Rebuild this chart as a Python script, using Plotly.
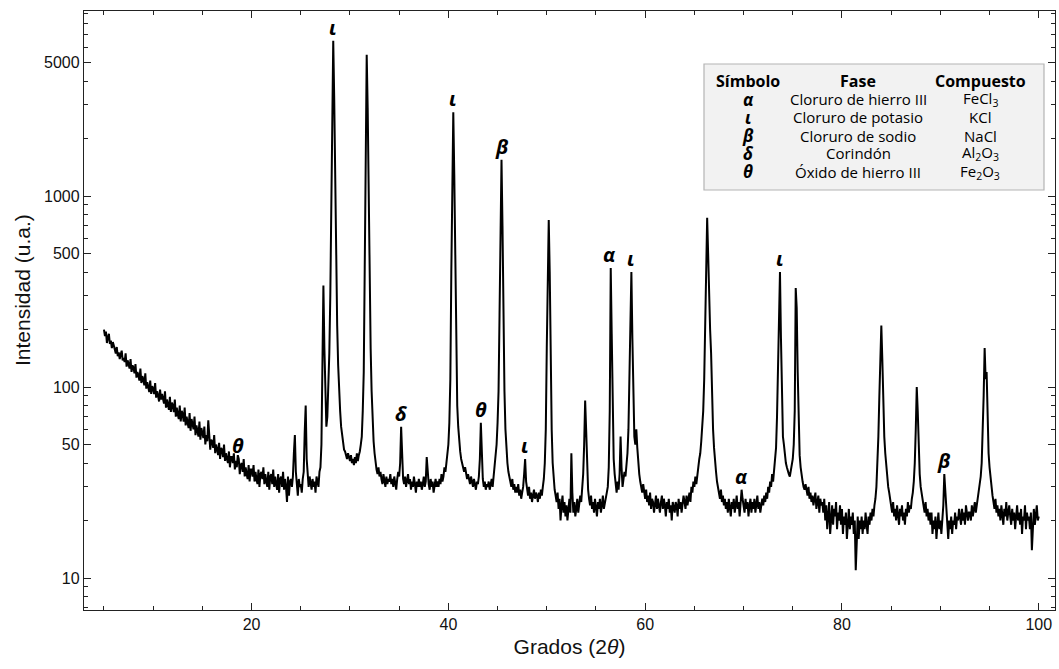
import numpy as np
import plotly.graph_objects as go

# ---------------- data ----------------
angle_start = 5.0
angle_step = 0.1

# intensity rows, one row per degree (x = d.0 ... d.9), 5..99, then 100.0
intensity_rows = [
    [200, 185, 195, 170, 182, 190, 168, 175, 160, 172],  # 5
    [165, 158, 150, 162, 145, 152, 140, 148, 155, 138],  # 6
    [142, 135, 150, 128, 138, 132, 125, 140, 120, 130],  # 7
    [126, 118, 132, 112, 120, 115, 108, 125, 105, 114],  # 8
    [110, 102, 118, 98, 106, 100, 94, 108, 92, 101],     # 9
    [98, 92, 105, 88, 95, 90, 84, 97, 86, 92],           # 10
    [88, 82, 95, 78, 86, 80, 76, 89, 74, 83],            # 11
    [80, 74, 86, 70, 78, 72, 68, 80, 66, 75],            # 12
    [72, 66, 78, 63, 70, 65, 61, 73, 59, 68],            # 13
    [65, 60, 70, 56, 63, 58, 55, 66, 53, 61],            # 14
    [58, 54, 62, 50, 56, 52, 67, 55, 47, 53],            # 15
    [52, 48, 56, 45, 50, 47, 44, 51, 42, 48],            # 16
    [47, 43, 50, 41, 45, 42, 40, 46, 38, 43],            # 17
    [43, 40, 45, 37, 41, 38, 44, 42, 35, 39],            # 18
    [40, 36, 42, 34, 38, 35, 33, 39, 32, 37],            # 19
    [37, 34, 39, 32, 36, 33, 31, 37, 30, 35],            # 20
    [36, 33, 38, 31, 35, 32, 30, 36, 29, 34],            # 21
    [35, 31, 37, 30, 34, 31, 29, 35, 28, 33],            # 22
    [34, 30, 36, 29, 33, 30, 25, 34, 27, 32],            # 23
    [33, 30, 34, 45, 56, 36, 30, 27, 33, 30],            # 24
    [31, 28, 33, 36, 58, 80, 42, 32, 30, 34],            # 25
    [31, 29, 33, 30, 32, 28, 34, 31, 30, 36],            # 26
    [38, 50, 150, 340, 160, 75, 62, 70, 95, 150],        # 27
    [300, 1000, 3500, 6500, 3200, 1100, 430, 210, 130, 90],  # 28
    [75, 62, 55, 50, 47, 46, 44, 42, 45, 43],            # 29
    [41, 44, 40, 42, 39, 43, 40, 45, 41, 44],            # 30
    [46, 50, 55, 75, 120, 420, 2700, 5500, 2900, 900],   # 31
    [340, 160, 95, 65, 52, 45, 40, 37, 35, 38],          # 32
    [34, 36, 33, 31, 35, 32, 30, 34, 31, 33],            # 33
    [32, 35, 31, 33, 30, 34, 32, 29, 33, 36],            # 34
    [34, 40, 62, 40, 33, 31, 34, 30, 32, 35],            # 35
    [31, 33, 29, 32, 30, 34, 31, 28, 32, 30],            # 36
    [33, 30, 32, 29, 31, 34, 30, 32, 43, 33],            # 37
    [31, 29, 33, 30, 32, 28, 31, 33, 30, 32],            # 38
    [30, 33, 31, 35, 32, 34, 38, 36, 40, 44],            # 39
    [50, 65, 110, 400, 1500, 2750, 1300, 380, 140, 80],  # 40
    [62, 52, 46, 42, 40, 37, 36, 38, 35, 33],            # 41
    [35, 33, 31, 34, 32, 30, 33, 31, 29, 32],            # 42
    [31, 34, 42, 65, 45, 33, 30, 32, 29, 31],            # 43
    [30, 32, 29, 31, 33, 30, 34, 36, 42, 50],            # 44
    [65, 95, 240, 800, 1550, 700, 220, 95, 60, 45],      # 45
    [40, 36, 34, 32, 30, 33, 29, 31, 28, 30],            # 46
    [28, 31, 27, 29, 26, 28, 30, 35, 42, 32],            # 47
    [29, 27, 30, 26, 28, 25, 27, 29, 26, 28],            # 48
    [27, 25, 28, 26, 29, 27, 30, 33, 40, 60],            # 49
    [160, 450, 750, 400, 130, 60, 40, 33, 29, 27],       # 50
    [25, 28, 23, 26, 20, 24, 27, 22, 25, 21],            # 51
    [24, 20, 23, 26, 22, 45, 28, 22, 25, 21],            # 52
    [23, 26, 22, 24, 27, 25, 29, 35, 50, 85],            # 53
    [60, 38, 29, 26, 24, 27, 23, 25, 22, 26],            # 54
    [24, 21, 25, 23, 26, 22, 24, 27, 23, 25],            # 55
    [26, 28, 30, 38, 75, 420, 190, 70, 42, 35],          # 56
    [30, 28, 32, 29, 35, 55, 38, 30, 33, 36],            # 57
    [34, 38, 45, 60, 110, 260, 400, 180, 75, 55],        # 58
    [50, 60, 48, 40, 35, 32, 30, 28, 31, 27],            # 59
    [26, 29, 25, 27, 24, 28, 23, 26, 25, 22],            # 60
    [25, 27, 23, 26, 24, 22, 25, 27, 23, 26],            # 61
    [24, 21, 25, 23, 26, 22, 24, 20, 25, 23],            # 62
    [22, 25, 24, 21, 26, 23, 25, 22, 24, 27],            # 63
    [25, 23, 27, 24, 26, 28, 25, 30, 28, 32],            # 64
    [30, 34, 31, 36, 38, 42, 45, 52, 60, 75],            # 65
    [110, 190, 400, 770, 500, 280, 200, 150, 90, 60],    # 66
    [48, 40, 36, 32, 30, 28, 26, 29, 25, 27],            # 67
    [24, 26, 23, 25, 22, 26, 24, 21, 25, 23],            # 68
    [26, 22, 24, 27, 23, 25, 21, 24, 29, 26],            # 69
    [24, 22, 26, 23, 25, 21, 24, 26, 22, 25],            # 70
    [23, 26, 22, 24, 27, 23, 25, 22, 24, 26],            # 71
    [24, 27, 25, 28, 26, 30, 28, 32, 30, 35],            # 72
    [32, 36, 40, 48, 70, 140, 320, 400, 180, 75],        # 73
    [55, 50, 44, 40, 38, 36, 35, 34, 36, 38],            # 74
    [42, 50, 75, 330, 260, 120, 60, 44, 38, 34],         # 75
    [32, 30, 29, 31, 28, 27, 30, 26, 28, 25],            # 76
    [27, 24, 26, 28, 23, 25, 27, 22, 26, 24],            # 77
    [25, 22, 26, 20, 24, 18, 23, 25, 17, 22],            # 78
    [24, 19, 23, 21, 25, 18, 22, 20, 24, 19],            # 79
    [23, 17, 21, 19, 22, 16, 20, 23, 18, 21],            # 80
    [19, 22, 17, 20, 11, 18, 21, 16, 20, 18],            # 81
    [21, 17, 20, 18, 22, 19, 17, 21, 19, 22],            # 82
    [20, 23, 21, 24, 26, 30, 38, 55, 90, 150],           # 83
    [210, 140, 75, 55, 45, 38, 34, 30, 28, 26],          # 84
    [24, 22, 25, 21, 23, 20, 24, 22, 19, 23],            # 85
    [21, 24, 20, 22, 19, 23, 21, 25, 22, 24],            # 86
    [23, 26, 28, 32, 40, 60, 100, 75, 45, 35],           # 87
    [30, 28, 26, 24, 22, 25, 21, 23, 20, 22],            # 88
    [19, 22, 17, 20, 18, 21, 16, 19, 22, 18],            # 89
    [20, 17, 21, 24, 35, 28, 22, 19, 16, 20],            # 90
    [18, 21, 17, 20, 19, 22, 18, 21, 20, 23],            # 91
    [21, 19, 23, 20, 22, 19, 24, 21, 20, 22],            # 92
    [22, 20, 24, 21, 23, 25, 22, 24, 26, 28],            # 93
    [30, 34, 40, 55, 90, 160, 110, 120, 70, 45],         # 94
    [38, 33, 30, 27, 25, 23, 26, 22, 24, 21],            # 95
    [23, 20, 24, 22, 19, 23, 21, 25, 20, 22],            # 96
    [24, 21, 19, 23, 20, 22, 18, 21, 24, 20],            # 97
    [22, 19, 23, 17, 21, 20, 24, 18, 22, 20],            # 98
    [21, 18, 22, 14, 20, 23, 19, 21, 24, 20],            # 99
    [21],                                                # 100
]

# peak labels
label_x = [18.6, 28.3, 35.2, 40.5, 43.3, 45.4, 47.8, 56.4, 58.6, 69.8, 73.7, 90.4]
label_y = [42, 6500, 62, 2750, 65, 1550, 42, 420, 400, 29, 400, 35]
label_text = ["θ", "ɩ", "δ", "ɩ", "θ", "β", "ɩ", "α", "ɩ", "α", "ɩ", "β"]

# phase table
table_header = ["Símbolo", "Fase", "Compuesto"]
table_symbols = ["α", "ɩ", "β", "δ", "θ"]
table_phases = ["Cloruro de hierro III", "Cloruro de potasio", "Cloruro de sodio",
                "Corindón", "Óxido de hierro III"]
table_compounds = ["FeCl<sub>3</sub>", "KCl", "NaCl", "Al<sub>2</sub>O<sub>3</sub>",
                   "Fe<sub>2</sub>O<sub>3</sub>"]

x_major = [20, 40, 60, 80, 100]
x_minor = [5, 10, 15, 25, 30, 35, 45, 50, 55, 65, 70, 75, 85, 90, 95]
y_major = [10, 50, 100, 500, 1000, 5000]
y_major_text = ["10", "50", "100", "500", "1000", "5000"]
y_minor = [7, 8, 9, 20, 30, 40, 60, 70, 80, 90, 200, 300, 400, 600, 700, 800, 900,
           2000, 3000, 4000, 6000, 7000, 8000, 9000]

# ---------------- build ----------------
intensity = [v for row in intensity_rows for v in row]
two_theta = np.round(angle_start + angle_step * np.arange(len(intensity)), 2)

fig = go.Figure()
fig.add_trace(go.Scatter(x=two_theta, y=intensity, mode="lines",
                         line=dict(color="black", width=2.0), showlegend=False,
                         hoverinfo="skip"))

W, H = 1059, 669
L, R, T, B = 84, 4, 11, 59

def px2paper_x(px):
    return (px - L) / (W - L - R)

def py2paper_y(py):
    return 1 - (py - T) / (H - T - B)

axis_font = dict(family="Liberation Sans, Arial, sans-serif", size=16, color="#111")
title_font = dict(family="Liberation Sans, Arial, sans-serif", size=21, color="#111")
fig.update_layout(
    width=W, height=H,
    margin=dict(l=L, r=R, t=T, b=B),
    plot_bgcolor="white", paper_bgcolor="white",
    showlegend=False,
)
fig.update_xaxes(
    range=[2.97, 101.65], showgrid=False, zeroline=False,
    showline=True, linecolor="#222", linewidth=1.3, mirror="ticks",
    ticks="inside", ticklen=7, tickwidth=1, tickcolor="#222",
    tickvals=x_major, tickfont=axis_font,
    minor=dict(tickvals=x_minor, ticks="inside", ticklen=4, tickwidth=1, tickcolor="#222"),
    title=dict(text="Grados (2<i>θ</i>)", font=title_font, standoff=6),
)
fig.update_yaxes(
    type="log", range=[0.8325, 3.969], showgrid=False, zeroline=False,
    showline=True, linecolor="#222", linewidth=1.3, mirror="ticks",
    ticks="inside", ticklen=7, tickwidth=1, tickcolor="#222",
    tickvals=y_major, ticktext=y_major_text, tickfont=axis_font,
    minor=dict(tickvals=y_minor, ticks="inside", ticklen=4, tickwidth=1, tickcolor="#222"),
)
# y-axis title (placed as in the reference, slightly above plot centre)
fig.add_annotation(xref="paper", yref="paper", x=px2paper_x(22), y=py2paper_y(290),
                   text="Intensidad (u.a.)", textangle=-90, showarrow=False,
                   xanchor="center", yanchor="middle", font=title_font)

label_font = dict(family="Open Sans, Noto Sans, sans-serif", size=20, color="black")
for lx, ly, lt in zip(label_x, label_y, label_text):
    fig.add_annotation(x=lx, y=np.log10(ly), text=f"<b><i>{lt}</i></b>", showarrow=False,
                       xanchor="center", yanchor="bottom", yshift=-2, font=label_font)

# phase table box
box = (704, 64, 1044, 190)
fig.add_shape(type="rect", xref="paper", yref="paper",
              x0=px2paper_x(box[0]), x1=px2paper_x(box[2]),
              y0=py2paper_y(box[3]), y1=py2paper_y(box[1]),
              fillcolor="#f2f2f2", line=dict(color="#b4b4b4", width=1.2), layer="above")

col_x = [748, 858, 980]
header_y = 81
row_y = [99.5, 117.5, 135.5, 153.5, 171.5]
tfamily = "Open Sans, Noto Sans, sans-serif"
for cx, txt in zip(col_x, table_header):
    fig.add_annotation(xref="paper", yref="paper", x=px2paper_x(cx), y=py2paper_y(header_y),
                       text=f"<b>{txt}</b>", showarrow=False, xanchor="center", yanchor="middle",
                       borderpad=0, font=dict(family=tfamily, size=16, color="black"))
for i in range(len(table_symbols)):
    ry = py2paper_y(row_y[i])
    fig.add_annotation(xref="paper", yref="paper", x=px2paper_x(col_x[0]), y=ry,
                       text=f"<b><i>{table_symbols[i]}</i></b>", showarrow=False,
                       xanchor="center", yanchor="middle", borderpad=0,
                       font=dict(family=tfamily, size=17, color="black"))
    fig.add_annotation(xref="paper", yref="paper", x=px2paper_x(col_x[1]), y=ry,
                       text=table_phases[i], showarrow=False, xanchor="center", yanchor="middle",
                       borderpad=0, font=dict(family=tfamily, size=15, color="black"))
    fig.add_annotation(xref="paper", yref="paper", x=px2paper_x(col_x[2]), y=ry,
                       text=table_compounds[i], showarrow=False, xanchor="center", yanchor="middle",
                       borderpad=0, font=dict(family=tfamily, size=15, color="black"))

fig.write_html("out.html")
